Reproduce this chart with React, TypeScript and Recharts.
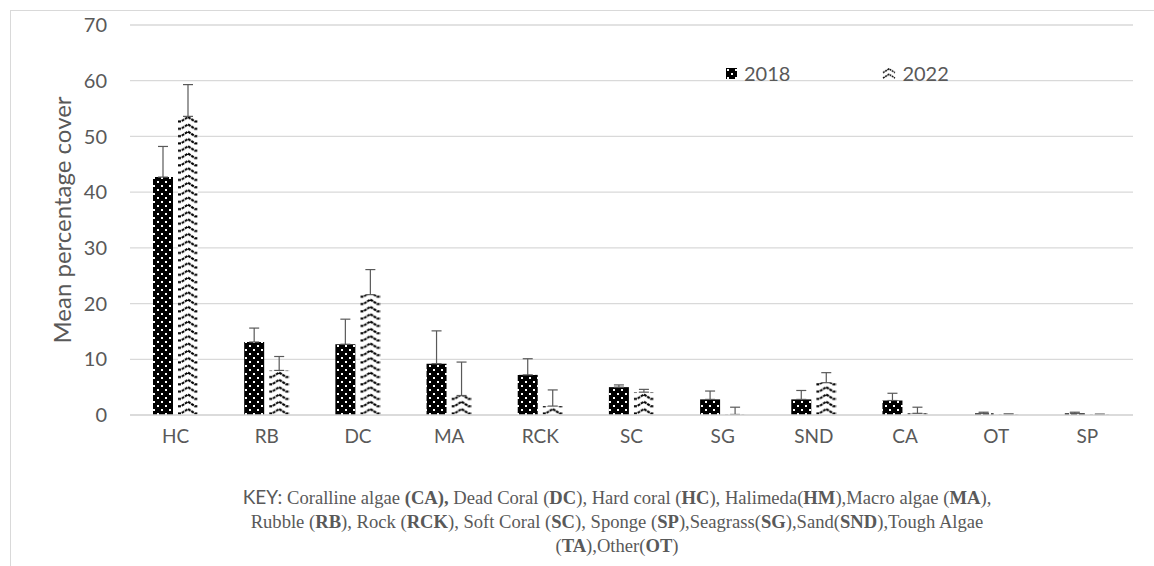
import React from 'react';
import { Bar, BarChart, CartesianGrid, ErrorBar, Legend, XAxis, YAxis } from 'recharts';

const categories = ['HC', 'RB', 'DC', 'MA', 'RCK', 'SC', 'SG', 'SND', 'CA', 'OT', 'SP'];
const mean2018 = [42.7, 13.1, 12.7, 9.2, 7.2, 5.0, 2.8, 2.8, 2.6, 0.3, 0.3];
const err2018 = [5.5, 2.5, 4.5, 5.9, 2.9, 0.4, 1.5, 1.6, 1.3, 0.2, 0.2];
const mean2022 = [53.6, 8.0, 21.6, 3.5, 1.6, 4.1, 0.1, 5.8, 0.3, 0.1, 0.1];
const err2022 = [5.7, 2.5, 4.5, 6.0, 2.9, 0.5, 1.3, 1.8, 1.1, 0.1, 0.05];
const yTicks = [0, 10, 20, 30, 40, 50, 60, 70];

const TEXT = '#595959';
const GRID = '#d9d9d9';
const SANS = 'Lato, "Open Sans", sans-serif';
const SERIF = '"Liberation Serif", "Times New Roman", serif';

const rows = categories.map((c, i) => ({
  cat: c,
  y2018: mean2018[i],
  e2018: [0, err2018[i]],
  y2022: mean2022[i],
  e2022: [0, err2022[i]]
}));

// dotted black fill (2018)
function DotsPattern({ id }: { id: string }) {
  return (
    <pattern id={id} patternUnits='userSpaceOnUse' width={8} height={8}>
      <rect width={8} height={8} fill='#000' />
      <rect x={1} y={1} width={2} height={2} fill='#fff' />
      <rect x={5} y={5} width={2} height={2} fill='#fff' />
    </pattern>
  );
}

function Chevron({ w }: { w: number }) {
  const s = w / 20;
  return (
    <polyline
      points={`0,5.8 ${3 * s},5.8 ${10 * s},1.3 ${17 * s},5.8 ${20 * s},5.8`}
      fill='none'
      stroke='#000'
      strokeWidth={2}
      strokeDasharray='3 0.8'
    />
  );
}

// white bar with black zigzags (2022), tile aligned to each bar
function ZigzagBar(props: any) {
  const { x, y, width, height, index } = props;
  if (!height || height <= 0) return <g />;
  const id = `zz-${index}`;
  return (
    <g>
      <pattern id={id} patternUnits='userSpaceOnUse' x={x} y={y + height} width={width} height={7.3}>
        <rect width={width} height={7.3} fill='#fff' />
        <Chevron w={width} />
      </pattern>
      <rect x={x} y={y} width={width} height={height} fill={`url(#${id})`} />
    </g>
  );
}

function KeyLegend() {
  return (
    <div style={{ display: 'flex', alignItems: 'center', fontFamily: SANS, fontSize: 20, color: TEXT }}>
      <svg width={11} height={11} style={{ marginRight: 7 }}>
        <defs>
          <DotsPattern id='lg-dots' />
        </defs>
        <rect width={11} height={11} fill='url(#lg-dots)' />
      </svg>
      <span>2018</span>
      <svg width={14} height={11} style={{ marginLeft: 92, marginRight: 6 }}>
        <pattern id='lg-zz' patternUnits='userSpaceOnUse' width={14} height={5.5}>
          <rect width={14} height={5.5} fill='#fff' />
          <polyline points='1,4.6 7,0.8 13,4.6' fill='none' stroke='#000' strokeWidth={1.4} strokeDasharray='2 0.6' />
        </pattern>
        <rect width={14} height={11} fill='url(#lg-zz)' />
      </svg>
      <span>2022</span>
    </div>
  );
}

const b = { fontWeight: 'bold' as const };

export default function App() {
  return (
    <div style={{ position: 'absolute', left: 0, top: 0, width: 1154, height: 566, background: '#fff', overflow: 'hidden' }}>
      <div
        style={{
          position: 'absolute',
          left: 10,
          top: 10,
          width: 1160,
          height: 570,
          borderTop: `1px solid ${GRID}`,
          borderLeft: `1px solid ${GRID}`
        }}
      />
      <BarChart
        width={1154}
        height={566}
        data={rows}
        margin={{ top: 25, right: 21, bottom: 111, left: 40 }}
        barSize={20}
        barGap={5}
        style={{ position: 'absolute', left: 0, top: 0 }}
      >
        <defs>
          <DotsPattern id='dots' />
        </defs>
        <CartesianGrid vertical={false} stroke={GRID} strokeWidth={1.3} />
        <XAxis
          dataKey='cat'
          axisLine={{ stroke: GRID, strokeWidth: 1.3 }}
          tickLine={false}
          tickSize={0}
          tickMargin={15}
          height={40}
          tick={{ fill: TEXT, fontSize: 19, fontFamily: SANS }}
          interval={0}
        />
        <YAxis
          domain={[0, 70]}
          ticks={yTicks}
          axisLine={false}
          tickLine={false}
          tickSize={0}
          tickMargin={23}
          width={90}
          tick={{ fill: TEXT, fontSize: 20, fontFamily: SANS }}
          label={{
            value: 'Mean percentage cover',
            angle: -90,
            position: 'insideLeft',
            offset: 22,
            style: { textAnchor: 'middle', fill: TEXT, fontSize: 24, fontFamily: SANS }
          }}
        />
        <Legend
          verticalAlign='middle'
          align='center'
          layout='horizontal'
          content={<KeyLegend />}
          wrapperStyle={{ position: 'absolute', left: 726, top: 61, width: 260 }}
        />
        <Bar dataKey='y2018' name='2018' fill='url(#dots)' isAnimationActive={false}>
          <ErrorBar dataKey='e2018' width={5} stroke={TEXT} strokeWidth={1.2} direction='y' />
        </Bar>
        <Bar dataKey='y2022' name='2022' shape={ZigzagBar} isAnimationActive={false}>
          <ErrorBar dataKey='e2022' width={5} stroke={TEXT} strokeWidth={1.2} direction='y' />
        </Bar>
      </BarChart>
      <div
        style={{
          position: 'absolute',
          left: 0,
          top: 485,
          width: 1234,
          textAlign: 'center',
          fontFamily: SERIF,
          fontSize: 18.6,
          color: TEXT,
          lineHeight: '24px'
        }}
      >
        <div>
          <span style={{ fontFamily: SANS, fontSize: 19 }}>KEY: </span>Coralline algae <span style={b}>(CA),</span> Dead Coral (
          <span style={b}>DC</span>), Hard coral (<span style={b}>HC</span>), Halimeda(<span style={b}>HM</span>),Macro algae (
          <span style={b}>MA</span>),
        </div>
        <div>
          Rubble (<span style={b}>RB</span>), Rock (<span style={b}>RCK</span>), Soft Coral (<span style={b}>SC</span>), Sponge (
          <span style={b}>SP</span>),Seagrass(<span style={b}>SG</span>),Sand(<span style={b}>SND</span>),Tough Algae
        </div>
        <div>
          (<span style={b}>TA</span>),Other(<span style={b}>OT</span>)
        </div>
      </div>
    </div>
  );
}
